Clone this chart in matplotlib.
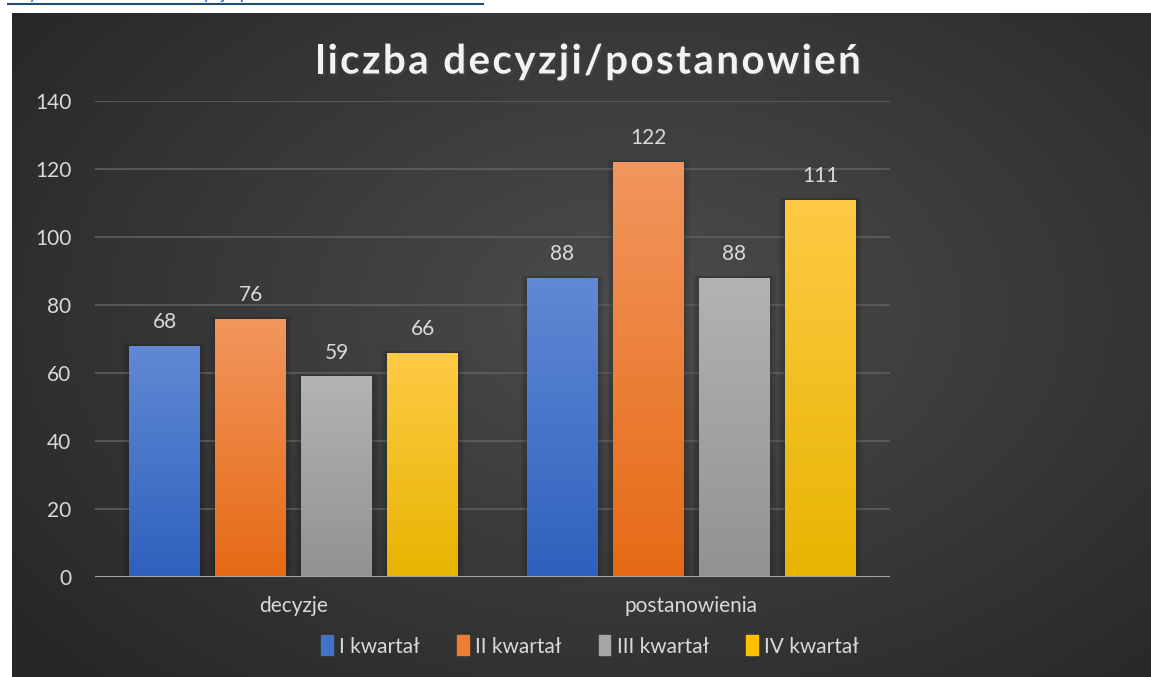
import numpy as np
import matplotlib.pyplot as plt
import matplotlib.colors as mcolors
import matplotlib.patheffects as pe
from matplotlib.patches import Patch, Rectangle
from matplotlib.lines import Line2D

plt.rcParams['font.family'] = ['Lato', 'DejaVu Sans']

categories = ['decyzje', 'postanowienia']
series = ['I kwartał', 'II kwartał', 'III kwartał', 'IV kwartał']
values = [
    [68, 88],
    [76, 122],
    [59, 88],
    [66, 111],
]
yticks = [0, 20, 40, 60, 80, 100, 120, 140]
title = 'liczba decyzji/postanowień'

top_colors = ['#6189d4', '#f2965e', '#b3b3b3', '#ffca45']
bot_colors = ['#2e61bd', '#e66a15', '#929292', '#e6b500']
flat_colors = ['#4472c4', '#ed7d31', '#a5a5a5', '#ffc000']

W, H = 1151, 677
fig = plt.figure(figsize=(W / 100, H / 100), dpi=100)
fig.patch.set_facecolor('white')

# dark radial background panel
bg = fig.add_axes([12 / W, 0, 1 - 12 / W, (H - 13) / H])
bg.set_axis_off()
yy, xx = np.mgrid[0:1:300j, 0:1:500j]
r = np.sqrt(((xx - 0.55) / 0.75) ** 2 + ((yy - 0.45) / 0.85) ** 2)
g = np.clip(0.30 - 0.16 * r, 0.15, 0.30)
bg.imshow(np.dstack([g, g, g]), aspect='auto', extent=[0, 1, 0, 1], origin='upper')

# link above the chart, mostly cut off by the top edge (as in the screenshot)
fig.add_artist(Line2D([8 / W, 483 / W], [(H - 3.5) / H] * 2, color='#1f4e79', lw=1.5))
fig.text(8 / W, (H + 1.5) / H, 'Wykres nr 1 liczba decyzji/postanowień', color='#2e74b5',
         fontsize=14, va='baseline', ha='left')

ax = fig.add_axes([95 / W, 100 / H, 795 / W, 476 / H])
ax.set_facecolor('none')
ax.set_xlim(-0.5, 1.5)
ax.set_ylim(0, 140)
ax.set_yticks(yticks)
ax.tick_params(axis='y', length=0, pad=17, labelsize=15, labelcolor='#d9d9d9')
ax.set_xticks(range(len(categories)))
ax.set_xticklabels(categories)
ax.tick_params(axis='x', length=0, pad=14, labelsize=15, labelcolor='#d9d9d9')
for s in ax.spines.values():
    s.set_visible(False)
ax.grid(axis='y', color='#5c5c5c', lw=1.3)
ax.set_axisbelow(True)

bw = 71 / 397.5
step = 86 / 397.5
grad = np.linspace(0, 1, 100)[:, None]
for i, vals in enumerate(values):
    c0 = np.array(mcolors.to_rgb(top_colors[i]))
    c1 = np.array(mcolors.to_rgb(bot_colors[i]))
    for j, v in enumerate(vals):
        xc = j + (i - 1.5) * step
        x0 = xc - bw / 2
        # soft shadow
        for k in range(5):
            d = 0.003 * (k + 1)
            ax.add_patch(Rectangle((x0 - d, 0), bw + 2 * d, v + d * 50,
                                   color='black', alpha=0.035, lw=0, zorder=1))
        bar = ax.bar(xc, v, bw, color=flat_colors[i], zorder=2)[0]
        img = c0 + (c1 - c0) * grad[:, :, None] * np.ones((1, 1, 3))
        im = ax.imshow(img, extent=[x0, x0 + bw, 0, v], aspect='auto', origin='upper', zorder=3)
        im.set_clip_path(bar)
        ax.annotate(str(v), (xc, v), xytext=(0, 10), textcoords='offset points',
                    ha='center', va='bottom', fontsize=15, color='#d9d9d9')

ax.axhline(0, color='#a6a6a6', lw=2.2, zorder=4)
ax.set_xlim(-0.5, 1.5)
ax.set_ylim(0, 140)

# spaced-out title, drawn letter by letter
renderer = fig.canvas.get_renderer()
tkw = dict(fontsize=29, fontweight='bold', color='#f2f2f2')


def text_w(s):
    t = fig.text(0, 0, s, **tkw)
    w = t.get_window_extent(renderer).width
    t.remove()
    return w


ref = text_w('HH')
adv = [text_w('H' + c + 'H') - ref for c in title]
spacing = 2.4
total = sum(adv) + spacing * (len(title) - 1)
x = 588 - total / 2
for c, a in zip(title, adv):
    fig.text(x / W, (H - 62) / H, c, ha='left', va='center', **tkw,
             path_effects=[pe.withSimplePatchShadow(offset=(1.5, -1.5), alpha=0.6)])
    x += a + spacing

handles = [Patch(color=c) for c in flat_colors]
fig.legend(handles, series, loc='center', bbox_to_anchor=(590 / W, (H - 646) / H), ncol=4,
           frameon=False, fontsize=15, labelcolor='#d9d9d9', handlelength=0.55,
           handleheight=1.1, handletextpad=0.3, columnspacing=1.8)

fig.savefig('out.png', dpi=100)
